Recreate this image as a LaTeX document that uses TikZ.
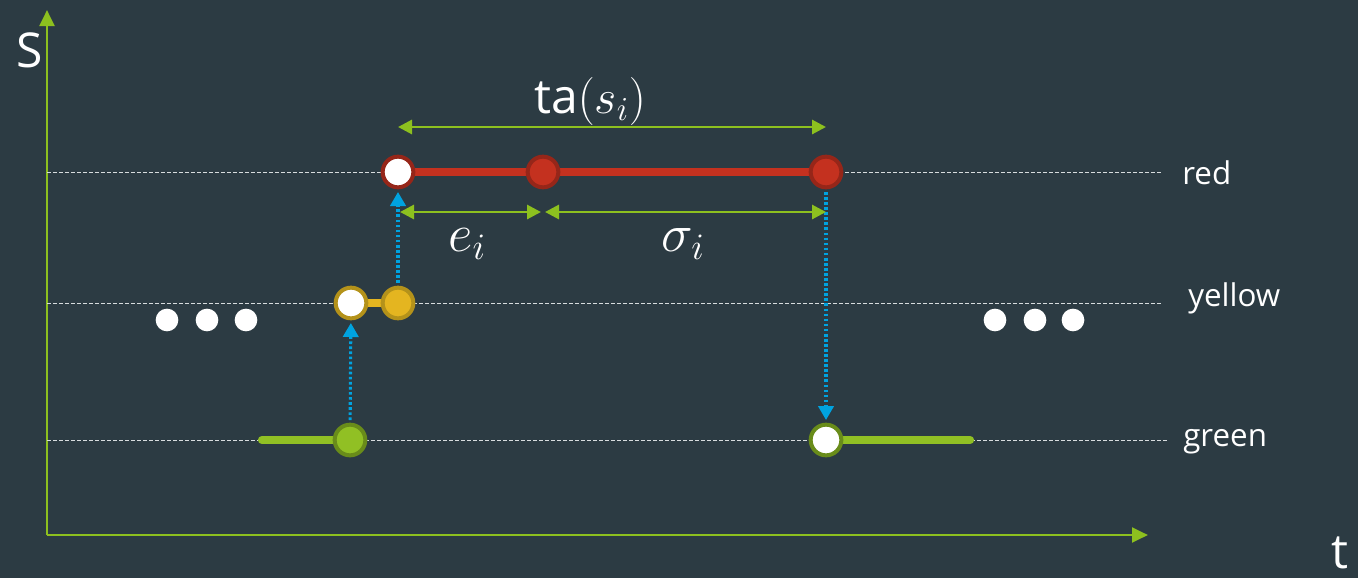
\RequirePackage{fix-cm}
\documentclass[tikz,border=0pt]{standalone}
\usepackage{fontspec}
\setmainfont{Open Sans}
\usepackage{tikz}
\usetikzlibrary{arrows.meta,calc}
\definecolor{cBg}  {RGB}{44,59,67}
\definecolor{cAxis}{RGB}{141,192,31}
\definecolor{cRed} {RGB}{196,49,31}
\definecolor{cRedD}{RGB}{150,38,25}
\definecolor{cYel} {RGB}{228,181,32}
\definecolor{cYelD}{RGB}{180,146,26}
\definecolor{cGrn} {RGB}{145,192,36}
\definecolor{cGrnD}{RGB}{105,140,26}
\definecolor{cFlow}{RGB}{0,163,224}
\definecolor{cGrid}{RGB}{215,220,222}
\tikzset{
  st/.style={circle,minimum size=23pt,inner sep=0pt,line width=3pt},
  stR/.style={st,fill=cRed,draw=cRedD},
  stRo/.style={st,fill=white,draw=cRedD},
  stY/.style={st,fill=cYel,draw=cYelD},
  stYo/.style={st,fill=white,draw=cYelD},
  stG/.style={st,fill=cGrn,draw=cGrnD},
  stGo/.style={st,fill=white,draw=cGrnD},
  seg/.style={line width=6.2pt,line cap=round},                       % state segment
  lvl/.style={cGrid,line width=0.7pt,dash pattern=on 3pt off 1.5pt},  % level guide
  axis/.style={cAxis,line width=2.2pt,-{Triangle[length=12pt,width=11pt]}},
  dim/.style={cAxis,line width=2.2pt,
              {Triangle[length=10.5pt,width=10.5pt]}-{Triangle[length=10.5pt,width=10.5pt]}},
  flow/.style={cFlow,line width=2.3pt,dash pattern=on 2pt off 1.8pt,
               -{Triangle[length=10.5pt,width=11.5pt]},shorten <=2pt,shorten >=2pt},
  dot/.style={circle,fill=white,minimum size=17pt,inner sep=0pt},
  lab/.style={white,font=\fontsize{23.5}{27}\selectfont,anchor=west,inner sep=0pt},
  big/.style={white,font=\fontsize{36}{40}\selectfont,inner sep=0pt},
  bigm/.style={white,font=\fontsize{40}{44}\selectfont,inner sep=0pt},
}
\begin{document}
\begin{tikzpicture}[x=0.75pt,y=-0.75pt]
  \fill[cBg] (0,0) rectangle (1358,578);
  \useasboundingbox (0,0) rectangle (1358,578);
  % axes
  \coordinate (O) at (47,535);
  \coordinate (Sx) at (47,10);
  \coordinate (Tx) at (1148,535);
  \draw[axis] (O) -- (Sx);
  \draw[axis] (O) -- (Tx);
  \node[big] (S) at (30,50) {S};
  \node[big] (T) at (1340,553) {t};
  % level guides
  \coordinate (rL) at (47,172);  \coordinate (rR) at (1163,172);
  \coordinate (yL) at (47,303);  \coordinate (yR) at (1163,303);
  \coordinate (gL) at (47,440);  \coordinate (gR) at (1167,440);
  \draw[lvl] (rL) -- (rR);
  \draw[lvl] (yL) -- (yR);
  \draw[lvl] (gL) -- (gR);
  \node[lab] (lr) at (1182,173) {red};
  \node[lab] (ly) at (1188,298) {yellow};
  \node[lab] (lg) at (1183,442) {green};
  % segments
  \coordinate (g0) at (262,440);
  \coordinate (g9) at (970,440);
  \draw[seg,cRed] (398,172) -- (826,172);
  \draw[seg,cYel] (351,303) -- (398,303);
  \draw[seg,cGrn] (g0) -- (350,440);
  \draw[seg,cGrn] (826,440) -- (g9);
  % states
  \node[stRo] (r1) at (398,172){};
  \node[stR]  (r2) at (543,172){};
  \node[stR]  (r3) at (826,172){};
  \node[stYo] (y1) at (351,303){};
  \node[stY]  (y2) at (398,303){};
  \node[stG]  (g1) at (350,440){};
  \node[stGo] (g2) at (826,440){};
  % transitions
  \draw[flow] (g1) -- (y1);
  \draw[flow] (y2) -- (r1);
  \draw[flow] (r3) -- (g2);
  % durations
  \draw[dim] ($(r1.center)+(0,-45)$) -- ($(r3.center)+(0,-45)$);
  \draw[dim] ($(r1.center)+(2,40)$) -- ($(r2.center)+(-2,40)$);
  \draw[dim] ($(r2.center)+(2,40)$) -- ($(r3.center)+(0,40)$);
  \node[big] (ta) at (590,101) {ta$(s_i)$};
  \node[bigm] (ei) at (467,244) {$e_i$};
  \node[bigm] (si) at (683,244) {$\sigma_i$};
  % ellipsis dots
  \foreach \x [count=\k] in {167,207,246} \node[dot] (dl\k) at (\x,320){};
  \foreach \x [count=\k] in {995,1035,1073} \node[dot] (dr\k) at (\x,320){};
\end{tikzpicture}
\end{document}
